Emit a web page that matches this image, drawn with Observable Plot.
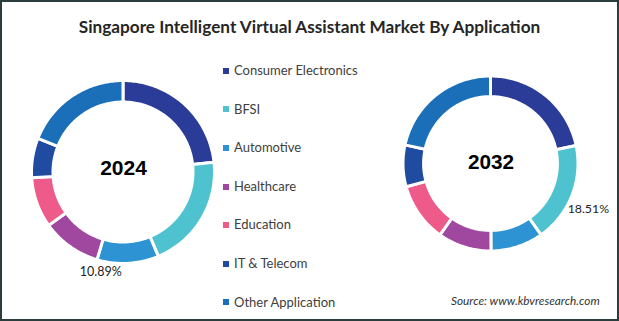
<!DOCTYPE html>
<html>
<head>
<meta charset="utf-8">
<script src="https://cdn.jsdelivr.net/npm/d3@7"></script>
<script src="https://cdn.jsdelivr.net/npm/@observablehq/plot@0.6"></script>
<style>
  html, body { margin: 0; padding: 0; background: #fff; }
  #wrap { position: relative; width: 619px; height: 321px; overflow: hidden; background: #fff; font-family: Lato, "Open Sans", sans-serif; }
  #border { position: absolute; left: 0; top: 0; width: 619px; height: 321px; box-sizing: border-box; border: 2px solid #2c3d3e; pointer-events: none; }
  #title { position: absolute; left: 0; width: 619px; top: 17px; line-height: 20px; text-align: center; font-weight: bold; font-size: 15px; color: #262626; white-space: nowrap; }
  .legend-item { position: absolute; left: 223px; height: 16px; line-height: 16px; font-size: 13px; color: #404040; white-space: nowrap; }
  .legend-item span.sw { display: inline-block; width: 6px; height: 6px; margin-right: 5px; vertical-align: middle; position: relative; top: -1px; }
  #source { position: absolute; left: 451px; top: 294px; line-height: 14px; font-size: 11.8px; font-style: italic; color: #333; white-space: nowrap; }
  .donut { position: absolute; }
  .donut svg { overflow: visible; }
</style>
</head>
<body>
<div id="wrap">
  <div id="title">Singapore Intelligent Virtual Assistant Market By Application</div>
  <div id="source">Source: www.kbvresearch.com</div>
  <div id="border"></div>
</div>
<script>
const categories = ["Consumer Electronics", "BFSI", "Automotive", "Healthcare", "Education", "IT & Telecom", "Other Application"];
const colors = ["#2b3b98", "#4ec3cf", "#2d93d3", "#a0479f", "#ee5a8a", "#1f4ba0", "#1a6fb8"];
const years = ["2024", "2032"];
const share2024 = [23.3, 20.4, 10.89, 10.5, 8.9, 7.0, 19.01];
const share2032 = [21.7, 18.51, 9.7, 9.9, 10.9, 7.7, 21.59];
const labelCategory2024 = "Automotive";
const labelCategory2032 = "BFSI";

const wrap = document.getElementById("wrap");

// Legend
categories.forEach((c, i) => {
  const el = document.createElement("div");
  el.className = "legend-item";
  el.style.top = (62 + i * 38.6) + "px";
  el.innerHTML = `<span class="sw" style="background:${colors[i]}"></span>${c}`;
  wrap.appendChild(el);
});

function donut(values, year, labelCat, cfg) {
  const total = d3.sum(values);
  const inner = 0.765, outer = 1.0;
  const pts = [];
  const mids = [];
  let acc = 0;
  values.forEach((v, i) => {
    const a0 = acc / total * 2 * Math.PI;
    acc += v;
    const a1 = acc / total * 2 * Math.PI;
    mids.push({cat: categories[i], value: v, mid: (a0 + a1) / 2});
    const n = Math.max(4, Math.ceil((a1 - a0) / 0.02));
    for (let j = 0; j <= n; j++) {
      const t = a0 + (a1 - a0) * j / n;
      pts.push({cat: categories[i], x1: outer * Math.sin(t), y1: outer * Math.cos(t), x2: inner * Math.sin(t), y2: inner * Math.cos(t)});
    }
  });
  const half = cfg.size / 2 / cfg.k;
  const lab = mids.filter(d => d.cat === labelCat);
  const rl = cfg.labelR;
  const chart = Plot.plot({
    width: cfg.size, height: cfg.size,
    margin: 0,
    x: {domain: [-half, half], axis: null},
    y: {domain: [-half, half], axis: null},
    color: {domain: categories, range: colors},
    style: {background: "transparent", overflow: "visible"},
    marks: [
      Plot.area(pts, {x1: "x1", y1: "y1", x2: "x2", y2: "y2", z: "cat", fill: "cat", stroke: "white", strokeWidth: 3, curve: "linear"}),
      Plot.text([year], {text: d => d, frameAnchor: "middle", dy: cfg.yearDy, fontSize: 21, fontWeight: "bold", fontFamily: "Liberation Sans, Arial, sans-serif", fill: "#000"}),
      Plot.text(lab, {x: d => rl * Math.sin(d.mid), y: d => rl * Math.cos(d.mid), text: d => d.value.toFixed(2) + "%", dx: cfg.labelDx, dy: cfg.labelDy, fontSize: 12.5, fontFamily: "Lato, sans-serif", fill: "#222", textAnchor: "middle"})
    ]
  });
  const holder = document.createElement("div");
  holder.className = "donut";
  holder.style.left = (cfg.cx - cfg.size / 2) + "px";
  holder.style.top = (cfg.cy - cfg.size / 2) + "px";
  holder.appendChild(chart);
  wrap.insertBefore(holder, document.getElementById("border"));
}

donut(share2024, years[0], labelCategory2024, {size: 240, k: 91.5, cx: 122.5, cy: 171.5, yearDy: -4, labelR: 1.09, labelDx: -28, labelDy: 0});
donut(share2032, years[1], labelCategory2032, {size: 260, k: 88.5, cx: 492, cy: 165, yearDy: -2, labelR: 1.22, labelDx: -2, labelDy: 6});

// fit title width to reference (~462px)
const title = document.getElementById("title");
const probe = document.createElement("span");
probe.style.cssText = "font: bold 15px Lato, 'Open Sans', sans-serif; white-space: nowrap; visibility: hidden; position: absolute;";
probe.textContent = title.textContent;
document.body.appendChild(probe);
const w = probe.getBoundingClientRect().width;
title.style.fontSize = (15 * 462 / w).toFixed(2) + "px";
probe.remove();
</script>
</body>
</html>
